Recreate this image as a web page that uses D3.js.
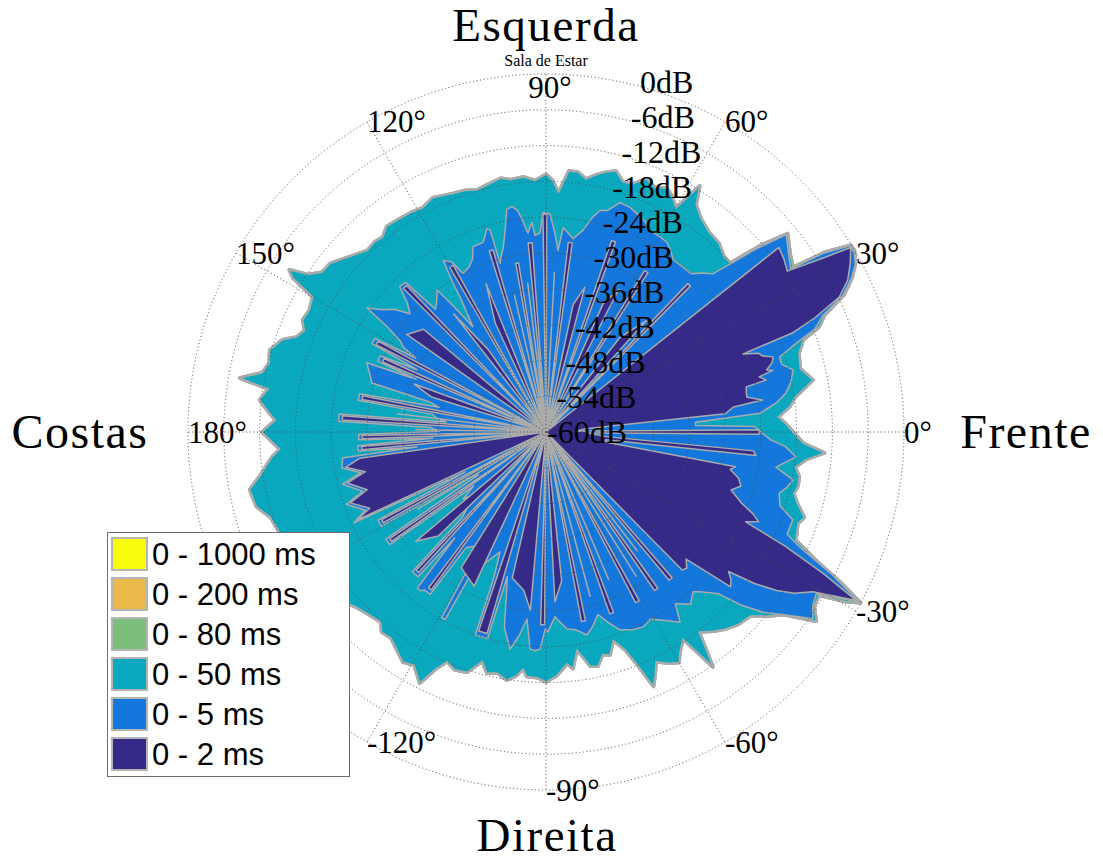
<!DOCTYPE html>
<html>
<head>
<meta charset="utf-8">
<script src="https://cdn.jsdelivr.net/npm/d3@7"></script>
<style>
  body { margin: 0; background: #ffffff; }
  svg { display: block; }
</style>
</head>
<body>
<svg id="chart" width="1103" height="862"></svg>
<script>
// Series labels and fill colours (drawn from the longest window to the shortest)
const seriesNames = ["0 - 1000 ms", "0 - 200 ms", "0 - 80 ms", "0 - 50 ms", "0 - 5 ms", "0 - 2 ms"];
const seriesColors = ["#f9fb0e", "#ebb94b", "#7dbe7d", "#0aa8be", "#1377db", "#352a87"];

// Radial ticks (dB) and angular ticks (degrees)
const ringTicks = [0, -6, -12, -18, -24, -30, -36, -42, -48, -54, -60];
const angleTicks = [0, 30, 60, 90, 120, 150, 180, -150, -120, -90, -60, -30];
// -150° sits under the legend box, so it gets a grid ray but no label
const angleLabelTicks = [0, 30, 60, 90, 120, 150, 180, -120, -90, -60, -30];

// Direction labels
const directionLabels = { top: "Esquerda", left: "Costas", right: "Frente", bottom: "Direita" };
const roomName = "Sala de Estar";

// Energy envelopes: [angle in degrees, level in dB]
const env50 = [[0,-18.6],[2,-19.8],[3.7,-21.0],[6,-18.9],[8,-17.8],[11,-14.4],[14,-16.1],[17.3,-15.6],[19.7,-14.2],[21,-11.0],[22.8,-9.3],[24.7,-5.0],[26.7,-2.6],[28.5,-1.0],[30.5,0],[31.5,-0.1],[32.8,-4.4],[33.7,-10.2],[36,-9.4],[39.4,-7.6],[41,-12.2],[42.5,-18.1],[44.7,-18.1],[47.5,-17.1],[50.7,-16.8],[54,-15.8],[56.5,-14.4],[58,-11.4],[59.9,-16.6],[62,-15.1],[63.6,-14.4],[66,-15.1],[68.4,-14.4],[71,-16.1],[73,-16.1],[75,-14.7],[77,-15.3],[79,-16.1],[81,-17.1],[83,-16.1],[85,-16.1],[87,-19.8],[88.5,-17.8],[90,-16.8],[92.5,-17.8],[95,-17.1],[98,-17.3],[100,-16.8],[102.7,-17.3],[105.9,-17.8],[108.5,-17.3],[111.3,-17.1],[113.5,-16.8],[115.8,-16.4],[118.8,-17.1],[121.8,-16.8],[125.1,-16.6],[127.8,-16.4],[129.9,-17.4],[132,-17.1],[134.5,-17.3],[138.2,-15.9],[142,-14.1],[144.5,-13.9],[146.5,-12.2],[147.7,-9.1],[148.7,-10.4],[149.9,-14.8],[152.7,-15.4],[155.3,-15.1],[157.2,-16.1],[159.1,-15.3],[160.7,-13.2],[163.5,-11.7],[166,-12.2],[168.2,-11.4],[170,-7.9],[171.2,-12.9],[173.6,-11.7],[175.5,-13.1],[177.5,-14.6],[180,-12.4],[183.7,-15.3],[185.2,-13.9],[187,-12.7],[188.6,-11.6],[191,-9.4],[194.5,-9.9],[197.1,-11.6],[200,-12.2],[204,-12.1],[209,-13.1],[214,-14.1],[219,-15.4],[223,-16.8],[226.1,-17.4],[228.9,-17.8],[230.6,-16.6],[233,-16.8],[235.5,-15.8],[238.1,-14.6],[240.5,-15.1],[243.3,-12.9],[245,-16.1],[246.7,-18.1],[249,-17.3],[251.8,-17.6],[254.5,-20.1],[256.2,-18.4],[258.5,-18.8],[261,-17.9],[263,-18.8],[264.5,-20.1],[265.5,-18.9],[268,-18.8],[270,-18.1],[272.5,-19.1],[275.2,-21.0],[276.5,-20.1],[278.1,-23.1],[280.7,-20.1],[282.5,-19.8],[284.3,-21.5],[286,-21.1],[287.9,-23.3],[290,-21.1],[291.4,-18.1],[292.9,-13.7],[294,-15.1],[295.6,-17.3],[298,-16.1],[300,-15.4],[301.3,-16.8],[303.5,-18.4],[305.4,-11.7],[306.5,-15.1],[307.4,-17.8],[310,-16.4],[312.4,-15.3],[315,-14.4],[318,-13.9],[320.3,-11.7],[322.5,-9.7],[325,-4.7],[327,-6.4],[329.1,-6.7],[330.5,-2.2],[331.5,0],[333,-4.7],[334.5,-9.7],[336.6,-14.4],[338.2,-14.7],[340,-15.1],[341.7,-14.4],[344,-16.1],[346,-17.2],[348,-16.8],[350,-16.9],[352,-17.8],[354,-16.1],[355.7,-13.2],[357.5,-16.8]];

const env5 = [[0,-24.0],[1.5,-25.0],[2.5,-34.9],[3.7,-34.9],[5,-24.0],[7.2,-21.1],[9.2,-19.3],[11.5,-18.1],[14.1,-17.3],[16,-18.9],[17.8,-18.9],[19.5,-15.6],[21,-11.7],[22.8,-9.7],[24.7,-5.2],[26.7,-2.7],[28.5,-1.0],[30.3,-0.2],[31.5,-0.3],[32.8,-4.7],[33.7,-10.7],[36,-9.7],[39.4,-7.9],[41,-13.1],[42.5,-18.6],[43.5,-21.5],[45.4,-22.6],[47.5,-24.0],[50.3,-24.1],[53.6,-24.1],[55.5,-23.1],[57.5,-22.3],[60,-22.1],[62.8,-22.0],[64.5,-21.1],[66.4,-20.6],[69.5,-19.8],[72.1,-19.6],[74.6,-21.5],[76.3,-21.8],[77.7,-23.1],[79.6,-25.6],[82,-27.3],[83.5,-26.5],[85.2,-25.6],[86.2,-29.5],[87.5,-26.5],[89,-23.4],[90.8,-23.2],[91.7,-26.6],[93.2,-27.0],[93.8,-24.8],[95.2,-26.5],[96.5,-24.0],[97.4,-22.5],[98.6,-21.8],[100,-22.1],[101.5,-25.6],[103,-28.2],[104.5,-29.8],[105.2,-30.7],[105.5,-24.8],[106.2,-24.5],[108.3,-26.5],[111.5,-26.6],[113,-28.5],[115,-29.5],[117.6,-30.0],[119,-27.4],[120.9,-26.5],[122,-30.5],[122.5,-33.2],[124.8,-38.5],[126.5,-33.2],[127.5,-30.0],[130,-31.5],[132,-32.3],[133.2,-25.6],[135.2,-25.4],[137,-28.2],[139,-29.8],[141,-27.3],[143.2,-25.8],[145.3,-23.5],[146.5,-28.2],[148,-31.2],[149.3,-32.2],[150.4,-34.9],[151.3,-27.3],[153.1,-27.3],[154.2,-36.0],[155.3,-29.4],[157.1,-29.4],[157.9,-36.5],[158.9,-27.8],[161.5,-28.8],[164.3,-29.7],[165.5,-39.9],[167,-41.6],[168.4,-28.1],[170.4,-28.1],[171.2,-40.7],[172.8,-41.6],[174.3,-43.2],[175.0,-25.2],[177.0,-25.2],[177.8,-40.7],[179.6,-42.1],[180.8,-28.6],[182.4,-28.6],[183.2,-41.0],[184.2,-28.4],[185.8,-28.4],[186.6,-38.2],[187.3,-25.6],[190,-25.3],[192.4,-28.2],[194.4,-24.8],[197.9,-27.7],[199.9,-24.4],[203.4,-27.0],[205.3,-24.4],[206.3,-44.9],[207.7,-28.2],[209.8,-28.2],[210.6,-44.9],[212.2,-46.6],[213.8,-27.7],[215.8,-27.7],[216.7,-44.9],[219,-42.1],[221,-44.1],[224,-41.6],[225.6,-40.0],[226.3,-27.6],[228.5,-27.6],[229.3,-36.5],[230.5,-26.1],[231.7,-26.1],[232.5,-26.6],[234.5,-26.6],[235.4,-36.5],[238,-37.4],[240,-36.5],[240.7,-24.3],[241.7,-24.3],[242.4,-36.5],[245,-35.7],[249,-38.5],[250.3,-34.0],[250.8,-24.0],[254.2,-24.0],[255,-34.9],[255.7,-33.5],[258,-26.5],[260.6,-23.1],[262.5,-25.6],[264.2,-28.5],[265.8,-23.5],[267.2,-23.3],[268.4,-23.6],[269.8,-27.0],[270.5,-26.5],[272.8,-29.0],[274,-28.2],[276.1,-26.8],[278.5,-26.5],[281.4,-25.3],[283.5,-26.5],[285.9,-28.2],[288,-26.5],[290.5,-24.6],[293.7,-23.8],[296.5,-23.5],[299.1,-24.1],[302,-22.8],[305.2,-21.0],[307,-24.0],[310,-22.3],[312.6,-23.6],[314,-22.8],[316.9,-20.3],[318.5,-16.1],[320.3,-12.7],[322.5,-9.7],[325,-5.4],[327,-6.7],[329.1,-7.2],[330.3,-3.9],[331.5,-0.3],[333.5,-6.4],[335.5,-13.1],[337,-16.1],[340.4,-16.1],[342.5,-18.9],[345.3,-19.6],[347,-18.6],[349,-17.8],[351.3,-21.0],[354.3,-17.9],[356.5,-19.8],[358,-22.3]];

const env2 = [[0.6,-24.3],[1.4,-55.0],[4.8,-53.3],[5.8,-29.8],[7.6,-28.3],[8.4,-23.3],[9.8,-25.8],[11,-25.8],[12.7,-25.6],[13.3,-22.1],[14.5,-23.1],[15.2,-20.6],[15.7,-21.6],[17,-20.4],[18.3,-19.9],[19.3,-21.5],[20.3,-22.0],[21.6,-24.5],[21.9,-15.4],[23,-11.1],[24.7,-5.9],[26.7,-3.4],[29,-1.7],[31.2,-0.3],[32.2,-5.5],[33.7,-11.4],[36,-10.7],[38.4,-10.2],[39,-60],
[44.8,-60],[45.3,-25.6],[46.3,-25.6],[46.8,-60],[48,-34.9],[52,-39.9],
[57.0,-60],[57.4,-28.3],[58.6,-28.3],[59.0,-60],[63,-33.2],[66,-36.5],
[69.5,-60],[69.9,-26.1],[71.1,-26.1],[71.5,-60],[75,-34.9],[78,-38.2],
[81.7,-60],[82.1,-28.0],[83.3,-28.0],[83.7,-60],[87,-33.2],
[89.4,-60],[89.8,-23.5],[90.8,-23.5],[91.2,-60],
[93.8,-60],[94.2,-28.2],[95.4,-28.2],[95.8,-60],[97,-34.9],
[98.8,-60],[99.2,-31.3],[100.2,-31.3],[100.6,-60],[103,-36.5],
[105.8,-60],[106.2,-28.2],[107.4,-28.2],[107.8,-60],[112,-33.2],[115,-39.9],
[118.7,-60],[119.1,-28.0],[120.3,-28.0],[120.7,-60],[125,-43.2],[128,-34.9],
[133.2,-60],[133.6,-26.1],[134.8,-26.1],[135.2,-60],[140,-33.2],[145,-31.5],
[151.2,-60],[151.6,-28.0],[152.8,-28.0],[153.2,-60],
[155.2,-60],[155.6,-30.2],[156.8,-30.2],[157.2,-60],[160,-36.5],[163,-39.9],
[168.4,-60],[168.8,-28.7],[170.0,-28.7],[170.4,-60],[173,-34.9],
[175.0,-60],[175.4,-25.8],[176.6,-25.8],[177.0,-60],[179,-38.2],
[180.8,-60],[181.1,-29.2],[182.1,-29.2],[182.4,-60],
[184.2,-60],[184.5,-29.0],[185.5,-29.0],[185.8,-60],
[187.5,-60],[188.0,-28.5],[190,-25.9],[192.4,-29.0],[194.4,-25.6],[197.9,-28.5],[199.9,-25.1],[203.4,-27.8],[205,-25.1],[205.6,-60],
[207.8,-60],[208.1,-28.8],[209.1,-28.8],[209.4,-60],[211,-34.9],
[214.0,-60],[214.3,-28.3],[215.3,-28.3],[215.6,-60],[220,-31.5],[224,-34.9],
[226.5,-60],[226.8,-28.2],[227.8,-28.2],[228.1,-60],
[232.7,-60],[233.0,-27.3],[234.0,-27.3],[234.3,-60],[238,-33.2],[245,-31.5],
[250.9,-60],[251.3,-24.8],[253.7,-24.8],[254.1,-60],[257,-34.9],[262,-33.2],[265,-30.0],
[268.0,-60],[268.4,-27.7],[269.6,-27.7],[270.0,-60],[273,-31.5],[276,-34.9],
[280.2,-60],[280.6,-27.7],[281.8,-27.7],[282.2,-60],[285,-31.5],
[288.9,-60],[289.3,-27.7],[290.5,-27.7],[290.9,-60],[293,-33.2],
[297.3,-60],[297.7,-27.7],[298.9,-27.7],[299.3,-60],[302,-31.5],
[304.0,-60],[304.4,-27.8],[305.6,-27.8],[306.0,-60],[307.5,-34.9],
[309.3,-60],[309.7,-27.7],[310.9,-27.7],[311.3,-60],
[314.0,-60],[314.6,-27.5],[316,-27.2],[317.8,-28.3],[319,-24.0],[320,-19.6],[321.5,-20.4],[322.6,-21.5],[324,-16.8],[325.5,-13.1],[327,-10.4],[329.1,-7.9],[331.5,-0.8],[333,-8.0],[334.5,-15.6],[335.8,-23.3],[337.1,-21.3],[338.5,-22.8],[340,-25.1],[342.6,-27.5],[344.5,-26.1],[346.5,-26.8],[348.5,-28.5],[349.6,-27.7],[350.4,-49.9],[352.5,-49.9],[353.6,-24.6],[354.8,-25.1],[355.6,-49.9],[358.8,-53.3],[359.4,-24.3]];

// The 80, 200 and 1000 ms windows coincide with the 50 ms envelope in this room
const seriesData = [env50, env50, env50, env50, env5, env2];

// ---- layout ----
const cx = 546, cy = 432, R = 358;
const svg = d3.select("#chart");

const rScale = d3.scaleLinear().domain([-60, 0]).range([0, R]).clamp(true);
// degrees counter-clockwise from "Frente" -> d3 radial angle (clockwise from top)
const aScale = d3.scaleLinear().domain([0, 360]).range([Math.PI / 2, Math.PI / 2 - 2 * Math.PI]);

const plot = svg.append("g").attr("transform", `translate(${cx},${cy})`);

const radialPath = d3.lineRadial()
  .angle(d => aScale(d[0]))
  .radius(d => rScale(d[1]))
  .curve(d3.curveLinearClosed);

const layers = seriesNames.map((name, i) => ({
  name, color: seriesColors[i], data: seriesData[i], edge: i < 3 ? 3.5 : 1.5
}));

plot.selectAll("path.energy")
  .data(layers)
  .join("path")
  .attr("class", "energy")
  .attr("d", d => radialPath(d.data))
  .attr("fill", d => d.color)
  .attr("stroke", "#ababab")
  .attr("stroke-width", d => d.edge)
  .attr("stroke-linejoin", "round");

// ---- dotted polar grid ----
const gridColor = "#4d4d4d";
plot.selectAll("circle.ring")
  .data(ringTicks.filter(t => t > -60))
  .join("circle")
  .attr("class", "ring")
  .attr("r", d => rScale(d))
  .attr("fill", "none")
  .attr("stroke", gridColor)
  .attr("stroke-width", 1)
  .attr("stroke-dasharray", "1 2.6");

const rayPoint = (deg, rad) => {
  const a = aScale((deg + 360) % 360);
  return [rad * Math.sin(a), -rad * Math.cos(a)];
};

plot.selectAll("line.spoke")
  .data(angleTicks)
  .join("line")
  .attr("class", "spoke")
  .attr("x1", 0).attr("y1", 0)
  .attr("x2", d => rayPoint(d, R)[0])
  .attr("y2", d => rayPoint(d, R)[1])
  .attr("stroke", gridColor)
  .attr("stroke-width", 1)
  .attr("stroke-dasharray", "1 2.6");

// ---- angle labels ----
const serif = "'Liberation Serif', 'DejaVu Serif', serif";
plot.selectAll("text.angle")
  .data(angleLabelTicks)
  .join("text")
  .attr("class", "angle")
  .attr("x", d => d === 90 ? 4 : rayPoint(d, R)[0])
  .attr("y", d => d === 90 ? -R + 13 : rayPoint(d, R)[1])
  .attr("text-anchor", d => d === 90 ? "middle" : "start")
  .attr("dominant-baseline", "central")
  .attr("font-family", serif)
  .attr("font-size", 31)
  .attr("fill", "#000")
  .text(d => `${d}°`);

// ---- dB labels along a ray just right of the vertical ----
plot.selectAll("text.level")
  .data(ringTicks)
  .join("text")
  .attr("class", "level")
  .attr("x", d => 1 + 0.26 * rScale(d))
  .attr("y", d => -0.978 * rScale(d))
  .attr("text-anchor", "start")
  .attr("dominant-baseline", "central")
  .attr("font-family", serif)
  .attr("font-size", 32)
  .attr("fill", "#000")
  .text(d => `${d}dB`);

// ---- direction titles ----
svg.append("text").attr("x", cx).attr("y", 41).attr("text-anchor", "middle")
  .attr("font-family", serif).attr("font-size", 47).attr("letter-spacing", 1.6)
  .text(directionLabels.top);
svg.append("text").attr("x", cx).attr("y", 65.5).attr("text-anchor", "middle")
  .attr("font-family", serif).attr("font-size", 16)
  .text(roomName);
svg.append("text").attr("x", cx - 466).attr("y", 448).attr("text-anchor", "middle")
  .attr("font-family", serif).attr("font-size", 48).attr("letter-spacing", 1.5)
  .text(directionLabels.left);
svg.append("text").attr("x", cx + 480).attr("y", 448).attr("text-anchor", "middle")
  .attr("font-family", serif).attr("font-size", 48).attr("letter-spacing", 1.5)
  .text(directionLabels.right);
svg.append("text").attr("x", cx + 1).attr("y", 851).attr("text-anchor", "middle")
  .attr("font-family", serif).attr("font-size", 47).attr("letter-spacing", 1.5)
  .text(directionLabels.bottom);

// ---- legend ----
const legend = svg.append("g").attr("transform", "translate(107,532)");
legend.append("rect")
  .attr("x", 0.5).attr("y", 0.5).attr("width", 242).attr("height", 244)
  .attr("fill", "#fff").attr("stroke", "#6e6e6e").attr("stroke-width", 1);
const rows = legend.selectAll("g.row").data(layers).join("g")
  .attr("class", "row")
  .attr("transform", (d, i) => `translate(5,${6 + i * 40})`);
rows.append("rect")
  .attr("width", 35).attr("height", 32)
  .attr("fill", d => d.color)
  .attr("stroke", "#b4b4b4").attr("stroke-width", 2);
rows.append("text")
  .attr("x", 40).attr("y", 16)
  .attr("dominant-baseline", "central")
  .attr("font-family", "'Liberation Sans', Arial, sans-serif")
  .attr("font-size", 31)
  .attr("fill", "#000")
  .text(d => d.name);
</script>
</body>
</html>
